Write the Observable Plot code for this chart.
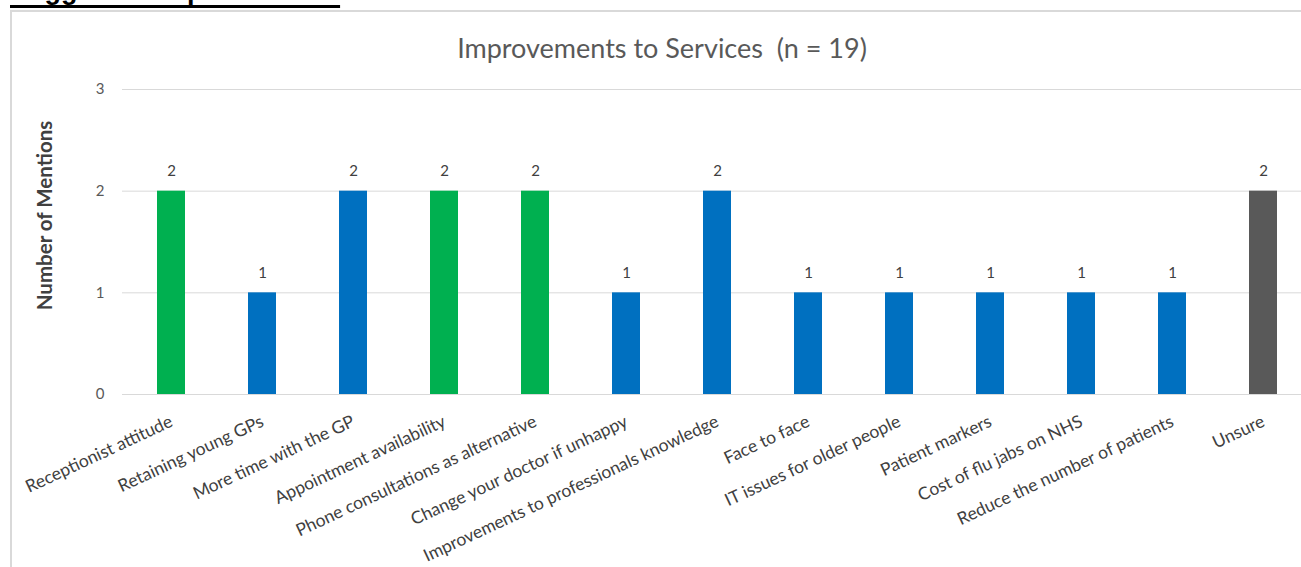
<!DOCTYPE html>
<html><head><meta charset="utf-8">
<script src="https://cdn.jsdelivr.net/npm/d3@7"></script>
<script src="https://cdn.jsdelivr.net/npm/@observablehq/plot@0.6"></script>
<style>
body{margin:0;background:#fff;overflow:hidden;}
#wrap{position:relative;width:1301px;height:567px;overflow:hidden;background:#fff;}
#heading{position:absolute;left:10px;top:-23px;font:bold 27px "Liberation Sans",sans-serif;color:#000;text-decoration:underline;text-decoration-thickness:3px;text-underline-offset:6px;white-space:nowrap;line-height:1;}
#frame{position:absolute;left:10px;top:10px;width:1400px;height:700px;border-left:2px solid #d9d9d9;border-top:2px solid #d9d9d9;}
#title{position:absolute;left:662px;top:32px;transform:translateX(-50%);font:27px Lato,sans-serif;color:#595959;white-space:nowrap;line-height:1.2;}
#chart{position:absolute;left:0;top:0;}
</style>
</head><body>
<div id="wrap">
<div id="heading">Suggested improvements</div>
<div id="frame"></div>
<div id="chart"></div>
<div id="title">Improvements to Services&nbsp; (n = 19)</div>
</div>
<script>
const categories = ["Receptionist attitude","Retaining young GPs","More time with the GP","Appointment availability","Phone consultations as alternative","Change your doctor if unhappy","Improvements to professionals knowledge","Face to face","IT issues for older people","Patient markers","Cost of flu jabs on NHS","Reduce the number of patients","Unsure"];
const values = [2,1,2,2,2,1,2,1,1,1,1,1,2];
const groups = ["Highlighted","Other","Other","Highlighted","Highlighted","Other","Other","Other","Other","Other","Other","Other","Unsure"];
const yTicks = [0,1,2,3];

const data = categories.map((c,i)=>({category:c,value:values[i],group:groups[i]}));

const chart = Plot.plot({
  width:1301, height:567,
  marginLeft:122, marginRight:0, marginTop:32, marginBottom:169,
  style:{fontFamily:"Lato, sans-serif", background:"transparent", overflow:"visible"},
  x:{domain:categories, range:[122,1311.5], paddingInner:0.694, paddingOuter:0.347, align:0.5, label:null},
  y:{domain:[0,3], range:[394,89], label:null},
  color:{domain:["Highlighted","Other","Unsure"], range:["#00b050","#0070c0","#595959"]},
  marks:[
    Plot.ruleY(yTicks,{stroke:"#d9d9d9", strokeWidth:1}),
    Plot.barY(data,{x:"category", y:"value", fill:"group"}),
    Plot.text(data,{x:"category", y:"value", text:d=>String(d.value), dy:-20, fill:"#404040", fontSize:15}),
    Plot.axisY({ticks:yTicks, tickSize:0, tickPadding:18, fontSize:15, color:"#595959", label:null, tickFormat:d=>String(d)}),
    Plot.text(["Number of Mentions"],{frameAnchor:"left", rotate:-90, dx:-77, textAnchor:"middle", fontSize:20.5, fontWeight:"bold", fill:"#404040"}),
    Plot.axisX({tickSize:0, tickRotate:-25, tickPadding:22, fontSize:17.5, color:"#404040", label:null})
  ]
});
document.getElementById("chart").appendChild(chart);
</script>
</body></html>
